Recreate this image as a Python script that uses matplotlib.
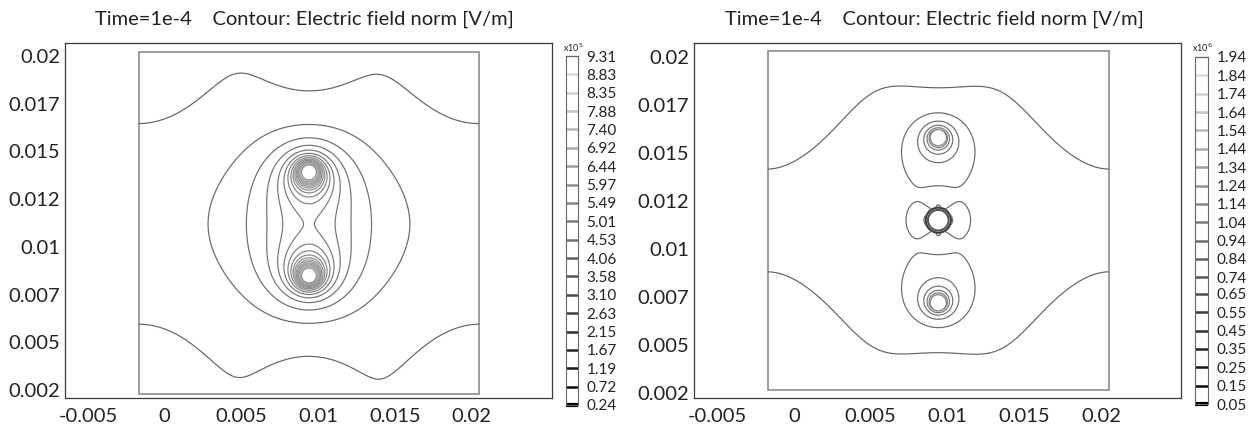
import numpy as np
import matplotlib
matplotlib.use("Agg")
import matplotlib.pyplot as plt
from matplotlib.colors import LinearSegmentedColormap
from matplotlib.patches import Rectangle, Ellipse

plt.rcParams["font.family"] = ["Lato", "DejaVu Sans"]

levels_left = np.array([0.24, 0.72, 1.19, 1.67, 2.15, 2.63, 3.10, 3.58, 4.06, 4.53,
                        5.01, 5.49, 5.97, 6.44, 6.92, 7.40, 7.88, 8.35, 8.83, 9.31]) * 1e5
levels_right = np.array([0.05, 0.15, 0.25, 0.35, 0.45, 0.55, 0.65, 0.74, 0.84, 0.94,
                         1.04, 1.14, 1.24, 1.34, 1.44, 1.54, 1.64, 1.74, 1.84, 1.94]) * 1e6

x_ticks = [-0.005, 0, 0.005, 0.01, 0.015, 0.02]
x_labels = ["-0.005", "0", "0.005", "0.01", "0.015", "0.02"]
y_ticks = [0.0025, 0.005, 0.0075, 0.01, 0.0125, 0.015, 0.0175, 0.02]
y_labels = ["0.002", "0.005", "0.007", "0.01", "0.012", "0.015", "0.017", "0.02"]

title = "Time=1e-4    Contour: Electric field norm [V/m]"

# model box (drawn as the inner rectangle)
box_left = ((-0.0017, 0.0205), (0.0023, 0.0202))
box_right = ((-0.0017, 0.0205), (0.00266, 0.0203))

# electrodes: centre x, centre y, sign
elec_left_x = [0.0094, 0.0094]
elec_left_y = [0.0139, 0.0085]
elec_left_q = [1, -1]
elec_right_x = [0.0094, 0.0094]
elec_right_y = [0.0158, 0.0072]
elec_right_q = [1, -1]
# cell between the right electrodes: x, y
cell_right = (0.0094, 0.0115)

# field on the electrode surface
peak_left = 9.31e5
peak_right = 0.66e6


def build_field(box, ex, ey, eq, a, peak, cell=None, a_cell=0.0, n=480):
    (x0, x1), (y0, y1) = box
    sx, sy = x1 - x0, y1 - y0
    centres = [complex((x - x0) / sx, (y - y0) / sy) for x, y in zip(ex, ey)]

    # line charges + mirror images (insulating walls of the box)
    src_z, src_q = [], []
    for z0, q in zip(centres, eq):
        for fx in (1, -1):
            for fy in (1, -1):
                for m in range(-2, 3):
                    for k in range(-2, 3):
                        src_z.append(complex(fx * z0.real + 2 * m, fy * z0.imag + 2 * k))
                        src_q.append(q)
    cc = None
    if cell is not None:
        # insulating cell: circle theorem images (centre charges cancel, net q = 0)
        cc = complex((cell[0] - x0) / sx, (cell[1] - y0) / sy)
        for zi, q in list(zip(src_z, src_q)):
            src_z.append(cc + a_cell ** 2 / np.conj(zi - cc))
            src_q.append(q)

    def norm_e(pts):
        s = np.zeros(pts.shape, complex)
        for zi, q in zip(src_z, src_q):
            s += q / (pts - zi)
        return np.abs(s)

    theta = np.linspace(0, 2 * np.pi, 181)
    surf = np.concatenate([z0 + a * np.exp(1j * theta) for z0 in centres])
    scale = peak / norm_e(surf).max()

    u = np.linspace(0, 1, n)
    U, V = np.meshgrid(u, u)
    Z = U + 1j * V
    with np.errstate(divide="ignore", invalid="ignore"):
        E = norm_e(Z) * scale
    for z0 in centres:
        E[np.abs(Z - z0) < a] = np.nan
    if cc is not None:
        E[np.abs(Z - cc) < a_cell] = np.nan
    return x0 + U * sx, y0 + V * sy, E


line_cmap = LinearSegmentedColormap.from_list("lines", ["#646464", "#b8b8b8"])
bar_cmap = LinearSegmentedColormap.from_list("bar", ["#000000", "#e8e8e8"])

W, H = 1252, 425
fig = plt.figure(figsize=(W / 100, H / 100), dpi=100)


def px_axes(x0, y0, x1, y1):
    return fig.add_axes([x0 / W, 1 - y1 / H, (x1 - x0) / W, (y1 - y0) / H])


panels = [
    dict(frame=(65, 43, 552, 398), xlim=(-0.0065, 0.02524), ylim=(0.002081, 0.020681),
         cbar=(566, 56, 578, 405), tx=304, expo=5, box=box_left, levels=levels_left,
         ex=elec_left_x, ey=elec_left_y, eq=elec_left_q, a=0.022, peak=peak_left,
         cell=None, a_cell=0.0),
    dict(frame=(694, 43, 1181, 398), xlim=(-0.00651, 0.02521), ylim=(0.00224, 0.02073),
         cbar=(1195, 57, 1208, 404), tx=934, expo=6, box=box_right, levels=levels_right,
         ex=elec_right_x, ey=elec_right_y, eq=elec_right_q, a=0.024, peak=peak_right,
         cell=cell_right, a_cell=0.037),
]

for p in panels:
    ax = px_axes(*p["frame"])
    X, Y, E = build_field(p["box"], p["ex"], p["ey"], p["eq"], p["a"], p["peak"],
                          p["cell"], p["a_cell"])
    levels = p["levels"]
    cols = line_cmap(np.linspace(0, 1, len(levels)))
    ax.contour(X, Y, E, levels=levels, colors=cols, linewidths=0.85)

    (x0, x1), (y0, y1) = p["box"]
    ax.add_patch(Rectangle((x0, y0), x1 - x0, y1 - y0, fill=False, ec="#8c8c8c", lw=1.2))
    for x, y in zip(p["ex"], p["ey"]):
        ax.add_patch(Ellipse((x, y), 2 * p["a"] * (x1 - x0), 2 * p["a"] * (y1 - y0),
                             fill=False, ec="#8c8c8c", lw=1.0))
    if p["cell"] is not None:
        for r, c in [(p["a_cell"], "#3a3a3a"), (0.82 * p["a_cell"], "#555555")]:
            ax.add_patch(Ellipse(p["cell"], 2 * r * (x1 - x0), 2 * r * (y1 - y0),
                                 fill=False, ec=c, lw=1.5))

    ax.set_xlim(*p["xlim"])
    ax.set_ylim(*p["ylim"])
    ax.set_xticks(x_ticks)
    ax.set_xticklabels(x_labels)
    ax.set_yticks(y_ticks)
    ax.set_yticklabels(y_labels)
    ax.tick_params(axis="both", length=0, labelsize=14.5, colors="#222222")
    ax.tick_params(axis="x", pad=7)
    ax.tick_params(axis="y", pad=3.5)
    for s in ax.spines.values():
        s.set_color("#3a3a3a")
        s.set_linewidth(0.9)

    fig.text(p["tx"] / W, 1 - 19 / H, title, ha="center", va="center",
             fontsize=14.5, color="#222222")

    # contour legend
    cax = px_axes(*p["cbar"])
    cax.set_xlim(0, 1)
    cax.set_ylim(levels[0], levels[-1])
    widths = [3.0] + [1.8] * (len(levels) - 1)
    cax.hlines(levels, 0, 1, colors=bar_cmap(np.linspace(0, 1, len(levels))),
               linewidths=widths, clip_on=False)
    cax.set_xticks([])
    cax.yaxis.tick_right()
    cax.set_yticks(levels)
    cax.set_yticklabels([f"{v / 10 ** p['expo']:.2f}" for v in levels])
    cax.tick_params(axis="y", length=0, pad=6, labelsize=11, colors="#222222")
    for s in cax.spines.values():
        s.set_color("#666666")
        s.set_linewidth(0.8)
    fig.text((p["cbar"][0] - 3) / W, 1 - 48 / H, "x10$^{%d}$" % p["expo"],
             ha="left", va="center", fontsize=6.5, color="#222222")

fig.savefig("out.png", dpi=100)
